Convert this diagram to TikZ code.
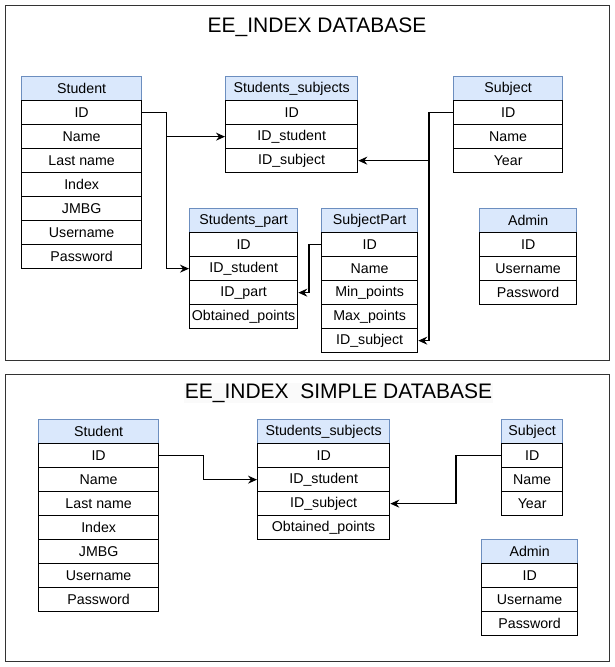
\documentclass[tikz,border=0pt]{standalone}
\usepackage{fontspec}
\setmainfont{Liberation Sans}
\usetikzlibrary{arrows.meta}
\definecolor{hdrfill}{HTML}{DAE8FC}
\definecolor{hdrline}{HTML}{6C8EBF}
\definecolor{framec}{HTML}{333333}
\definecolor{titlebg}{HTML}{FAFAFA}
\tikzset{
  hdr/.style={draw=hdrline, fill=hdrfill, line width=1.3pt, inner sep=0pt, minimum height=24pt, anchor=north west, font=\fontsize{14.2}{16}\selectfont},
  fieldrow/.style={draw=black, fill=white, line width=1.3pt, inner sep=0pt, minimum height=24pt, anchor=north west, font=\fontsize{14.2}{16}\selectfont},
  conn/.style={draw=black, line width=1.3pt, -{Stealth[length=9pt,width=8pt,inset=3pt]}},
  framebox/.style={draw=framec, line width=1pt},
  titletext/.style={font=\fontsize{21}{24}\selectfont, inner sep=1pt}
}
% #1 prefix, #2 x, #3 y, #4 width, #5 header, #6 rows
\newcommand{\dbtab}[6]{%
  \node[hdr, minimum width=#4pt] (#1h) at (#2,#3) {#5};
  \foreach \t [count=\i] in {#6} {
    \node[fieldrow, minimum width=#4pt] (#1\i) at ({#2},{#3+24*\i}) {\t};
  }
}
\begin{document}
\begin{tikzpicture}[x=1pt,y=-1pt]
\useasboundingbox (0,0) rectangle (614,667);
% frames
\draw[framebox] (5,5) rectangle (609,360);
\draw[framebox] (5,374) rectangle (609,661);
% titles
\node[titletext] (t1) at (317,27) {EE\_INDEX DATABASE};
\node[titletext, fill=titlebg] (t2) at (338.5,393) {EE\_INDEX\ \ SIMPLE DATABASE};
% top tables
\dbtab{st}{21}{76}{120}{Student}{ID,Name,Last name,Index,JMBG,Username,Password}
\dbtab{ss}{225}{76}{132}{Students\_subjects}{ID,ID\_student,ID\_subject}
\dbtab{sb}{453}{76}{109}{Subject}{ID,Name,Year}
\dbtab{sp}{189}{208}{108}{Students\_part}{ID,ID\_student,ID\_part,Obtained\_points}
\dbtab{sj}{321}{208}{96}{SubjectPart}{ID,Name,Min\_points,Max\_points,ID\_subject}
\dbtab{ad}{479}{208}{97}{Admin}{ID,Username,Password}
% top connectors
\draw[conn] (st1.east) -- ++(24,0) |- (ss2.west);
\draw[conn] (st1.east) -- ++(24,0) |- (sp2.west);
\draw[conn] (sb1.west) -- ++(-24,0) |- (ss3.east);
\draw[conn] (sb1.west) -- ++(-24,0) |- (sj5.east);
\draw[conn] (sj1.west) -- ++(-12,0) |- (sp3.east);
% bottom tables
\dbtab{bst}{38}{419}{120}{Student}{ID,Name,Last name,Index,JMBG,Username,Password}
\dbtab{bss}{257}{419}{132}{Students\_subjects}{ID,ID\_student,ID\_subject,Obtained\_points}
\dbtab{bsb}{501}{419}{61}{Subject}{ID,Name,Year}
\dbtab{bad}{481}{539}{96}{Admin}{ID,Username,Password}
% bottom connectors
\draw[conn] (bst1.east) -- ++(44,0) |- (bss2.west);
\draw[conn] (bsb1.west) -- ++(-45,0) |- (bss3.east);
\end{tikzpicture}
\end{document}
